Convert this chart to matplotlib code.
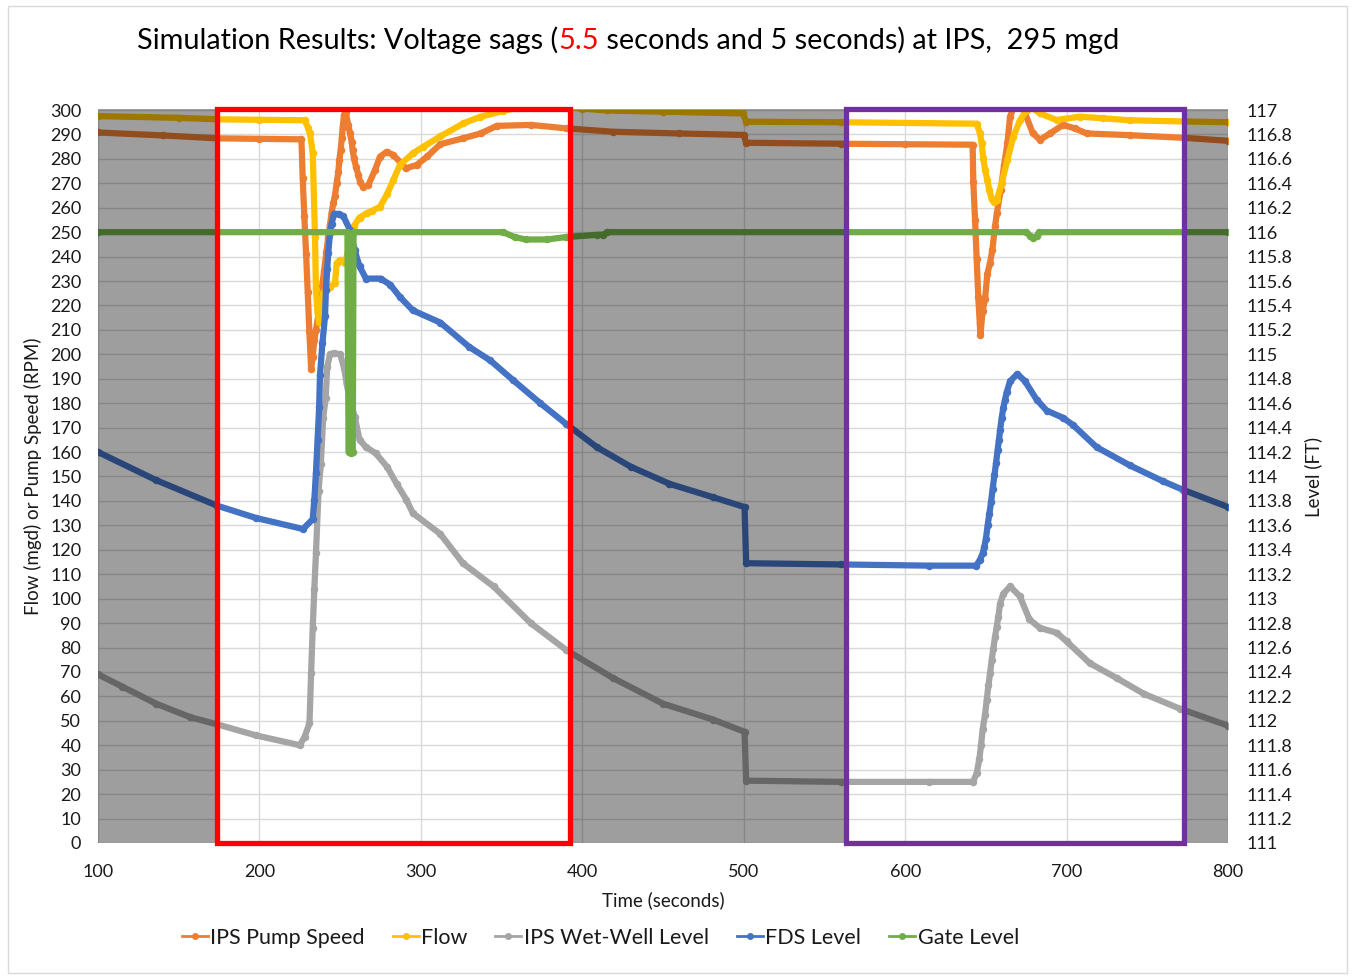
import matplotlib
matplotlib.use('Agg')
import matplotlib.pyplot as plt
from matplotlib.patches import Rectangle
from matplotlib.lines import Line2D
from matplotlib.ticker import MultipleLocator, FuncFormatter

plt.rcParams['font.family'] = ['Lato', 'DejaVu Sans']

# ---- data -------------------------------------------------------------------
# left axis: IPS pump speed (RPM) and flow (mgd)
speed_t = [100, 140, 174, 200, 226, 226.8, 227.8, 228.9, 229.9, 230.9, 232, 233, 234, 235,
           236, 237.5, 238.5, 240, 241.5, 242.6, 243.7, 244.7, 245.8, 246.8, 247.8, 248.9,
           249.5, 250.3, 251, 251.6, 252.4, 253.4, 255, 256.1, 257.1, 257.7, 258.6, 259.8,
           261.3, 262.3, 264.4, 267.5, 271.6, 274.7, 278.8, 282.9, 287, 290.5, 297.4, 304,
           312, 326, 337, 347, 368, 390, 419, 460, 500, 501.5, 560, 600, 641.8, 642.2,
           643.3, 644.3, 645.3, 646.2, 646.6, 648, 649.5, 650.9, 652.6, 654, 655.7, 656.8,
           659.2, 661.3, 663.3, 665, 667, 673, 679, 683.5, 690, 697.8, 705, 712.5, 739,
           773, 800]
speed = [290.8, 289.6, 288.4, 288.2, 288.0, 272, 256.5, 241, 225.5, 209.7, 194, 199, 206, 210,
         214, 219.5, 226, 234, 242, 248, 253, 258, 262, 265, 270, 274.8,
         279.6, 283.7, 288.4, 293.2, 298, 299.2, 293.9, 290.4, 287, 283.7, 280.2, 276.8,
         273.4, 270.6, 268.3, 269.3, 275.5, 280.9, 282.9, 281.6, 278.8, 276.1, 277.5, 281,
         286, 288.4, 290.4, 293.5, 293.9, 292.5, 291.1, 290.4, 289.8, 286.6, 286.2, 286.0, 285.8, 270.7,
         255, 239, 223.3, 213, 208, 217.9, 222.7, 232.9, 237.5, 242.7, 252.5, 257.7,
         267.3, 277.5, 286.3, 297.3, 300.8, 300.8, 290.6, 287.8, 290.5, 293.9, 292.5, 290.4, 289.7,
         288.6, 287.4]

flow_t = [100, 150, 174, 200, 228, 230.3, 231.3, 233, 234.4, 235, 236, 237, 238, 239.5, 241,
          243.7, 246.8, 247.8, 249.9, 253, 255, 257, 258.5, 262, 266.4, 270, 274.7, 279, 283,
          287, 295.3, 301.6, 312, 326.3, 336.6, 351, 360, 385, 400, 415, 450, 499.5, 501.5,
          560, 644.3, 646.4, 647.4, 648.4, 649.5, 650.9, 652.1, 653.6, 655, 656.8, 659.8,
          663.3, 667, 671.2, 675.3, 679, 683.5, 693.8, 708.3, 722.7, 739, 773, 800]
flow = [297.5, 296.8, 296.2, 296.0, 295.8, 292.5, 290.4, 282.5, 248.2, 226.6, 217, 213.3, 218.5, 224.9, 226.4,
        227.7, 229, 237.2, 238.6, 237.2, 242.7, 247.5, 252.5, 256, 257.7, 258.8, 260.4, 265.5, 271.4,
        277.5, 282.4, 285, 289.2, 294.5, 297.2, 299.6, 301, 301.5, 300.6, 299.8, 299.3, 298.6, 295.2,
        295.0, 294.4, 290.4, 286.3, 280.2, 275.5, 271.4, 267.3, 263.5, 262.2, 263.2, 270,
        279.6, 289, 295.9, 300, 300.8, 298.6, 295.9, 297.3, 296.6, 295.8, 295.3, 295.0]

# right axis: levels (ft)
wetwell_t = [100, 115, 136, 157, 174, 198, 225, 228, 231, 232, 233, 234, 235, 236.6, 238, 239.5,
             241, 242, 243.7, 246, 250, 252.4, 254, 256, 259, 262, 266, 272, 279, 285, 291, 295,
             312, 326, 345, 368, 390, 419, 450, 481, 500.5, 501.5, 560, 615, 642, 644.3, 646,
             647, 648, 649.5, 650.5, 651.6, 652.6, 653.6, 654.6, 655.7, 656.7, 657.7, 658.8,
             660.8, 665, 671, 677, 683.5, 694, 700, 714.5, 731, 748, 770, 800]
wetwell = [112.38, 112.28, 112.14, 112.03, 111.97, 111.88, 111.80, 111.87, 111.98, 112.39, 112.76,
           113.08, 113.37, 113.88, 114.10, 114.48, 114.64, 114.90, 115.00, 115.01, 115.00, 114.89,
           114.76, 114.63, 114.49, 114.30, 114.24, 114.19, 114.08, 113.94, 113.81, 113.70, 113.53,
           113.29, 113.10, 112.80, 112.58, 112.35, 112.14, 112.01, 111.91, 111.51, 111.50, 111.50,
           111.50, 111.57, 111.69, 111.80, 111.93, 112.05, 112.17, 112.29, 112.39, 112.50, 112.59,
           112.69, 112.77, 112.85, 112.96, 113.04, 113.10, 113.02, 112.83, 112.76, 112.72, 112.65,
           112.47, 112.35, 112.22, 112.10, 111.96]

fds_t = [100, 136, 174, 198, 227, 233, 234, 235, 236, 237, 237.5, 239, 240.6, 241.2, 242, 242.6,
         243.7, 244.7, 246.2, 249, 252, 256, 259, 262, 266, 275, 281, 287, 295, 312, 330, 343,
         357, 374, 390, 409, 430, 454, 481, 500.5, 501.5, 560, 615, 644, 646.4, 648, 649, 650,
         651.1, 652.1, 653.2, 654.2, 655.3, 656.3, 657.3, 658.1, 658.8, 659.8, 660.8, 661.9,
         662.9, 665, 669.5, 674.2, 681.4, 687.6, 697.9, 704.1, 718.6, 739.3, 759.9, 772.3, 800]
fds = [114.20, 113.97, 113.76, 113.66, 113.57, 113.65, 113.81, 114.03, 114.30, 114.57, 114.83,
       115.09, 115.31, 115.53, 115.70, 115.83, 115.99, 116.07, 116.15, 116.15, 116.13, 116.02,
       115.85, 115.72, 115.62, 115.62, 115.57, 115.47, 115.36, 115.26, 115.06, 114.95, 114.79,
       114.60, 114.43, 114.24, 114.08, 113.94, 113.83, 113.75, 113.29, 113.28, 113.27, 113.27,
       113.32, 113.37, 113.42, 113.49, 113.60, 113.69, 113.79, 113.90, 114.01, 114.11, 114.22,
       114.30, 114.38, 114.48, 114.56, 114.63, 114.69, 114.78, 114.84, 114.78, 114.63, 114.54,
       114.48, 114.42, 114.24, 114.09, 113.96, 113.89, 113.75]

gate_t = [100, 254.5, 255.2, 256.5, 257.8, 258.3, 351, 358, 365, 378, 390, 409, 413, 415.5,
          675, 677.5, 679.5, 681.5, 683, 800]
gate = [116.0, 116.0, 114.2, 114.19, 114.2, 116.0, 116.0, 115.96, 115.94, 115.94, 115.96, 115.978,
        115.98, 116.0, 116.0, 115.97, 115.95, 115.97, 116.0, 116.0]

# highlighted sag windows (s); everything else is greyed out
sag_windows = [(173.7, 392.4), (563.4, 772.8)]
box_colors = ['#ff0000', '#7030a0']

# ---- figure -----------------------------------------------------------------
fig = plt.figure(figsize=(13.52, 9.77), dpi=100)
fig.add_artist(Rectangle((0.006, 0.004), 0.99, 0.99, transform=fig.transFigure,
                         fill=False, ec='#d9d9d9', lw=1))
ax = fig.add_axes([0.0725, 0.1372, 0.8358, 0.7502])
ax2 = ax.twinx()

style = dict(lw=4.5, marker='o', ms=5.4, mew=0, solid_joinstyle='round', solid_capstyle='round')
series = [
    (ax, speed_t, speed, '#ed7d31', 'IPS Pump Speed'),
    (ax, flow_t, flow, '#ffc000', 'Flow'),
    (ax2, wetwell_t, wetwell, '#a5a5a5', 'IPS Wet-Well Level'),
    (ax2, fds_t, fds, '#4472c4', 'FDS Level'),
    (ax2, gate_t, gate, '#70ad47', 'Gate Level'),
]
for a, t, v, c, name in series:
    a.plot(t, v, color=c, **style)

ax.set_xlim(100, 800)
ax.set_ylim(0, 300)
ax2.set_ylim(111, 117)
ax.xaxis.set_major_locator(MultipleLocator(100))
ax.yaxis.set_major_locator(MultipleLocator(10))
ax2.yaxis.set_major_locator(MultipleLocator(0.2))
ax2.yaxis.set_major_formatter(FuncFormatter(lambda v, _: f'{round(v, 1):g}'))

ax.set_axisbelow(True)
ax.grid(True, color='#d9d9d9', lw=1)
for a in (ax, ax2):
    for s in a.spines.values():
        s.set_visible(False)
txt = '#1a1a1a'
ax.tick_params(axis='both', length=0, labelsize=13, colors=txt)
ax.tick_params(axis='y', pad=12)
ax.tick_params(axis='x', pad=15)
ax2.tick_params(axis='y', length=0, labelsize=13, colors=txt, pad=13)

ax.set_xlabel('Time (seconds)', fontsize=13.5, color=txt)
ax.xaxis.set_label_coords(0.5, -0.0778)
ax.xaxis.label.set_va('center')
ax.set_ylabel('Flow (mgd) or Pump Speed (RPM)', fontsize=13.5, color=txt)
ax.yaxis.set_label_coords(-0.0575, 0.5)
ax.yaxis.label.set_va('center')
ax2.set_ylabel('Level (FT)', fontsize=13.5, color=txt)
ax2.yaxis.set_label_coords(1.0752, 0.5)
ax2.yaxis.label.set_va('center')

# grey veil outside the two windows, then the window frames on top
top = 116.99 + 0.02
edges = [100] + [x for w in sag_windows for x in w] + [800]
for x0, x1 in zip(edges[::2], edges[1::2]):
    ax2.add_patch(Rectangle((x0, 111), x1 - x0, top - 111, fc='black', alpha=0.38,
                            lw=0, zorder=5, clip_on=False))
for (x0, x1), c in zip(sag_windows, box_colors):
    ax2.add_patch(Rectangle((x0, 111), x1 - x0, top - 111, fill=False, ec=c, lw=3.8,
                            zorder=6, clip_on=False))

# title with the red "5.5"
t1 = fig.text(137 / 1352, 1 - 40 / 977, 'Simulation Results: Voltage sags (', fontsize=20.8,
              va='center', ha='left', color='black')
t2 = ax.annotate('5.5', xy=(1, 0), xycoords=t1, va='bottom', ha='left', fontsize=20.8,
                 color='#ff0000', annotation_clip=False)
ax.annotate(' seconds and 5 seconds) at IPS,  295 mgd', xy=(1, 0), xycoords=t2, va='bottom',
            ha='left', fontsize=20.8, color='black', annotation_clip=False)

handles = [Line2D([], [], color=c, lw=2, marker='o', ms=5, mew=0) for _, _, _, c, _ in series]
fig.legend(handles, [s[4] for s in series], loc='center', bbox_to_anchor=(0.444, 0.04),
           ncol=5, frameon=False, fontsize=15.5, handlelength=1.2, handletextpad=0.12,
           columnspacing=1.3, labelcolor=txt)

fig.savefig('out.png', dpi=100)
